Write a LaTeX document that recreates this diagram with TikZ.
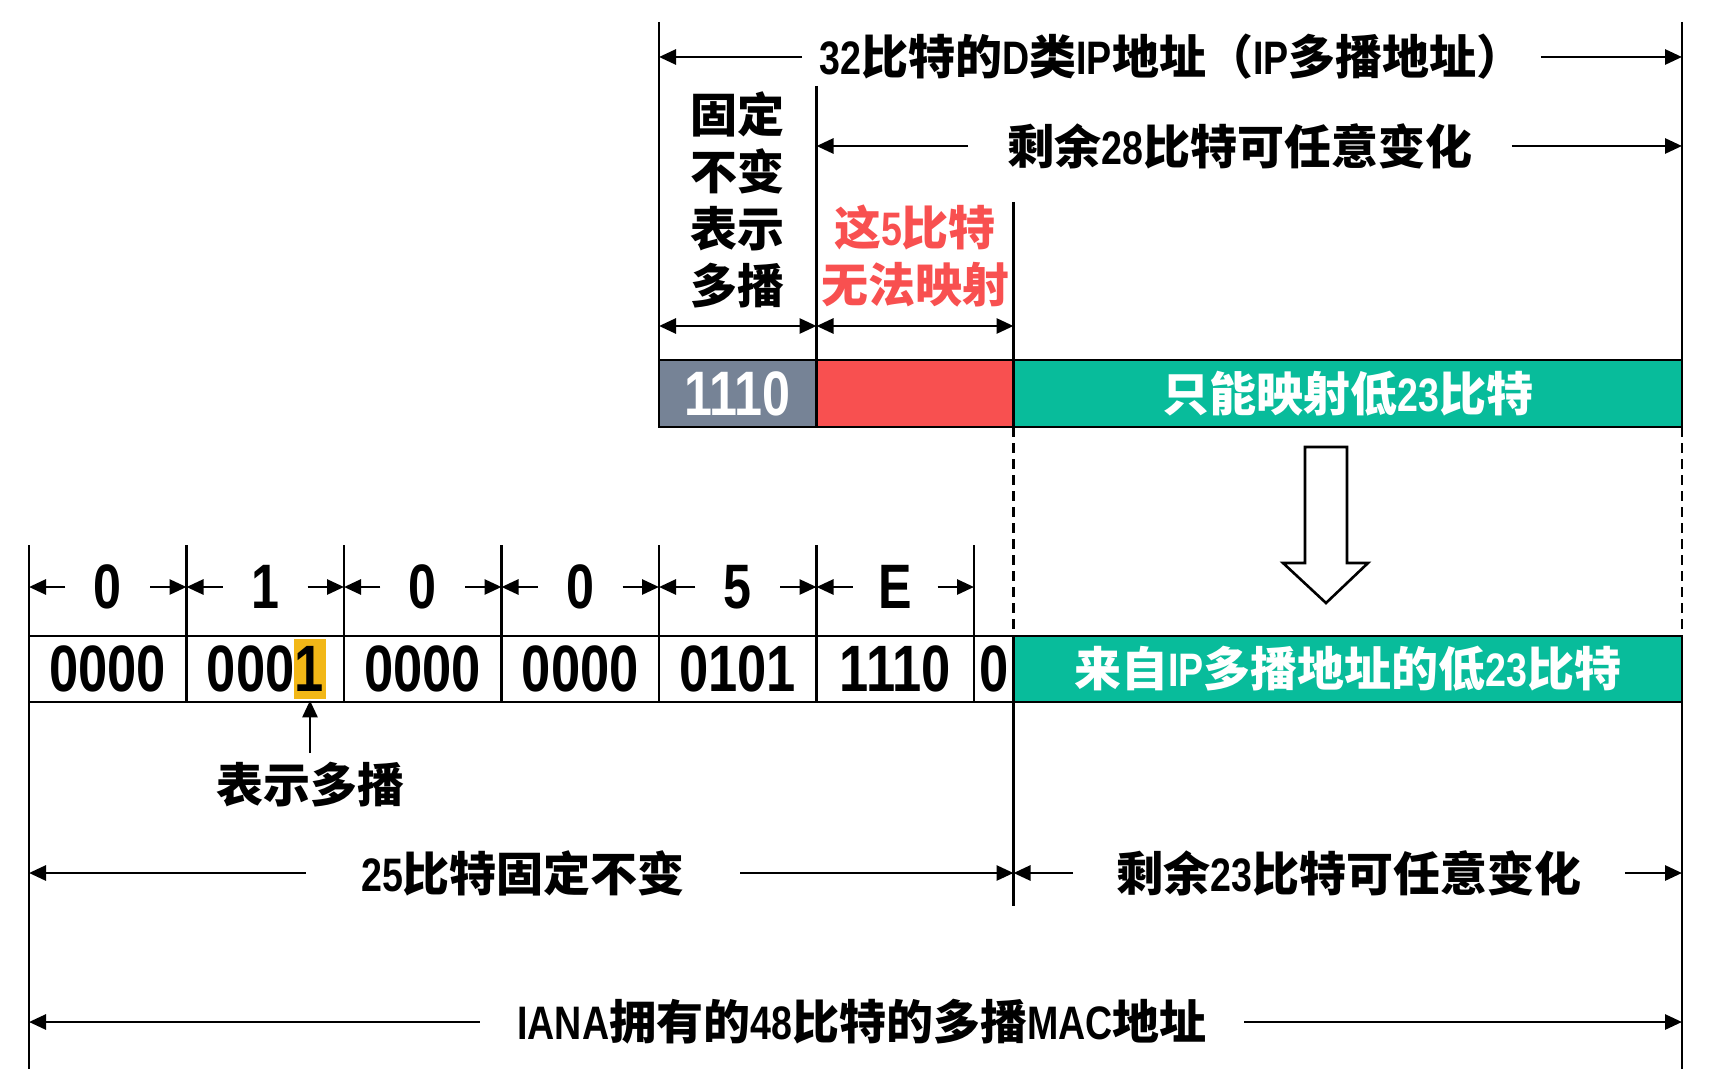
\documentclass[tikz,border=0pt]{standalone}
\usepackage{fontspec}
\setmainfont{Noto Sans CJK SC}
\newfontfamily\narrowfont{Liberation Sans}[FakeStretch=0.8]
\newcommand{\lat}[1]{{\narrowfont#1}}
\usetikzlibrary{arrows.meta}
\definecolor{ipgray}{RGB}{118,131,150}
\definecolor{ipred}{RGB}{248,80,80}
\definecolor{ipgreen}{RGB}{8,188,155}
\definecolor{bitorange}{RGB}{242,183,23}
\tikzset{>={Stealth[length=8.5pt,width=7.5pt,inset=0pt]}}

\begin{document}
\begin{tikzpicture}[x=0.5pt, y=-0.5pt, line width=1.4pt,
  lbl/.style={font=\bfseries\fontsize{23.5}{28.5}\selectfont, inner sep=0pt},
  bits/.style={font=\narrowfont\bfseries\fontsize{#1}{#1}\selectfont, inner sep=0pt},
  field/.style={draw, minimum height=33pt, inner sep=0pt}]
\useasboundingbox (0,0) rectangle (1711,1085);
\draw (659,22) -- (659,360);
\draw (1682,22) -- (1682,360);
\draw (816.5,86) -- (816.5,360);
\draw (1013.5,202) -- (1013.5,360);
\node[lbl, inner xsep=8pt] (t32) at (1171.5,57) {\lat{32}比特的\lat{D}类\lat{IP}地址（\lat{IP}多播地址）};
\coordinate (t32l) at (659,57);
\coordinate (t32r) at (1682,57);
\draw[->] (t32) -- (t32l);
\draw[->] (t32) -- (t32r);
\node[lbl, inner xsep=19pt] (t28) at (1240,146) {剩余\lat{28}比特可任意变化};
\coordinate (t28l) at (816.5,146);
\coordinate (t28r) at (1682,146);
\draw[->] (t28) -- (t28l);
\draw[->] (t28) -- (t28r);
\node[lbl, align=center] (fix) at (737.75,200) {固定\\不变\\表示\\多播};
\node[lbl, align=center, text=ipred] (nomap) at (915,256) {这\lat{5}比特\\无法映射};
\coordinate (w1) at (659,326);
\coordinate (w2) at (816.5,326);
\coordinate (w3) at (1013.5,326);
\draw[<->] (w1) -- (w2);
\draw[<->] (w2) -- (w3);
\node[field, fill=ipgray, text=white, bits=31.4, minimum width=78.75pt, minimum height=33.5pt] (b1110) at (737.75,393.5) {1110};
\node[field, fill=ipred, minimum width=98.5pt, minimum height=33.5pt] (b5) at (915,393.5) {};
\node[field, fill=ipgreen, text=white, lbl, minimum width=334.25pt, minimum height=33.5pt] (b23) at (1347.75,393.5) {只能映射低\lat{23}比特};
\draw[dash pattern=on 5pt off 3pt] (1013.5,427) -- (1013.5,636);
\draw[dash pattern=on 5pt off 3pt] (1682,427) -- (1682,636);
\draw[line width=1.3pt] (1305,447) -- (1347,447) -- (1347,563) -- (1368,563) -- (1326,603) -- (1283,563) -- (1305,563) -- cycle;
\draw (29,545) -- (29,1069);
\draw (1682,702) -- (1682,1069);
\draw (1013.5,702) -- (1013.5,906);
\node[fill=bitorange, minimum width=16pt, minimum height=30pt, inner sep=0pt] (mbit) at (310,669) {};
\foreach \hx/\bv [count=\i from 0] in {0/0000,1/0001,0/0000,0/0000,5/0101,E/1110} {
  \draw (186.5+157.5*\i,545) -- (186.5+157.5*\i,636);
  \node[field, bits=32.8, minimum width=78.75pt] (c\i) at (107.75+157.5*\i,669) {\bv};
  \node[bits=31.4, minimum width=41pt] (h\i) at (107.75+157.5*\i,587) {\hx};
  \coordinate (hl\i) at (29+157.5*\i,587);
  \coordinate (hr\i) at (186.5+157.5*\i,587);
  \draw[->] (h\i) -- (hl\i);
  \draw[->] (h\i) -- (hr\i);
}
\node[field, bits=32.8, minimum width=19.75pt] (c6) at (993.75,669) {0};
\node[field, fill=ipgreen, text=white, lbl, minimum width=334.25pt] (cmac) at (1347.75,669) {来自\lat{IP}多播地址的低\lat{23}比特};
\node[lbl, inner sep=4pt] (mc) at (310,785) {表示多播};
\draw[->] (mc) -- (mbit);
\node[lbl, inner xsep=27pt] (t25) at (523,873) {\lat{25}比特固定不变};
\coordinate (t25l) at (29,873);
\coordinate (t25r) at (1013.5,873);
\draw[->] (t25) -- (t25l);
\draw[->] (t25) -- (t25r);
\node[lbl, inner xsep=21pt] (t23) at (1349,873) {剩余\lat{23}比特可任意变化};
\coordinate (t23l) at (1013.5,873);
\coordinate (t23r) at (1682,873);
\draw[->] (t23) -- (t23l);
\draw[->] (t23) -- (t23r);
\node[lbl, inner xsep=18pt] (tmac) at (862,1022) {\lat{IANA}拥有的\lat{48}比特的多播\lat{MAC}地址};
\coordinate (tmacl) at (29,1022);
\coordinate (tmacr) at (1682,1022);
\draw[->] (tmac) -- (tmacl);
\draw[->] (tmac) -- (tmacr);
\end{tikzpicture}
\end{document}
